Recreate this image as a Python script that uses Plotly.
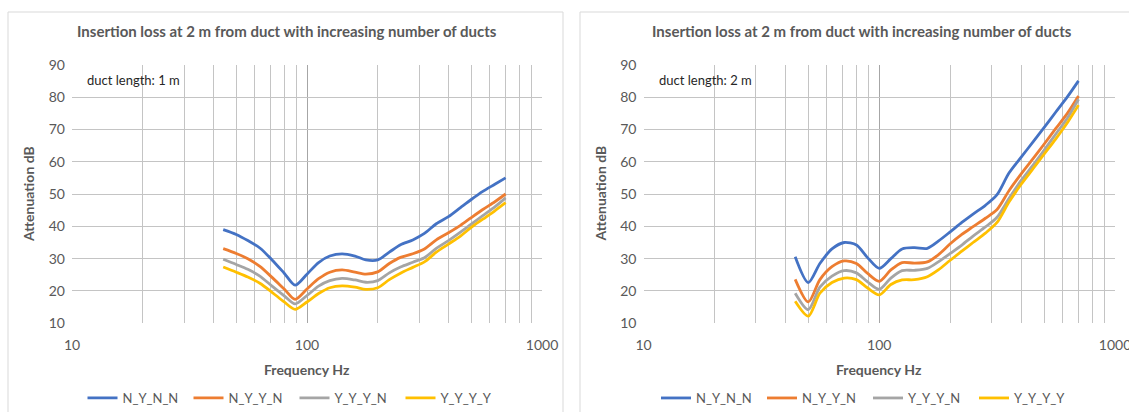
import plotly.graph_objects as go

W, H = 1129, 412

# Frequencies (Hz) shared by both panels
freq = [44, 50, 56, 63, 71, 80, 89, 100, 112, 125, 141, 160, 178, 200,
        224, 250, 282, 316, 355, 400, 450, 500, 560, 630, 700]

series_names = ["N_Y_N_N", "N_Y_Y_N", "Y_Y_Y_N", "Y_Y_Y_Y"]
series_colors = ["#4472C4", "#ED7D31", "#A5A5A5", "#FFC000"]

# Duct length 1 m — attenuation in dB
l1_nynn = [39.0, 37.5, 35.6, 33.3, 29.6, 25.5, 21.8, 25.2, 28.8, 30.8, 31.5, 30.8, 29.6, 29.6,
           32.0, 34.3, 35.8, 37.8, 40.8, 43.0, 45.8, 48.3, 50.8, 53.0, 55.0]
l1_nyyn = [33.1, 31.6, 30.0, 27.6, 24.2, 20.6, 17.4, 20.6, 23.8, 25.8, 26.5, 25.8, 25.2, 25.9,
           28.5, 30.4, 31.5, 33.0, 35.8, 38.0, 40.3, 42.7, 45.2, 47.6, 50.0]
l1_yyyn = [29.8, 28.2, 26.7, 24.6, 21.5, 18.5, 16.0, 18.6, 21.5, 23.2, 23.9, 23.4, 22.7, 23.2,
           25.6, 27.4, 28.9, 30.3, 33.2, 35.6, 38.2, 40.7, 43.3, 46.0, 48.8]
l1_yyyy = [27.4, 25.8, 24.3, 22.4, 19.6, 16.6, 14.3, 16.6, 19.2, 21.0, 21.6, 21.2, 20.5, 21.0,
           23.5, 25.5, 27.3, 29.0, 32.0, 34.5, 37.0, 39.7, 42.2, 44.8, 47.3]

# Duct length 2 m — attenuation in dB
l2_nynn = [30.6, 22.6, 28.5, 33.0, 35.0, 34.2, 30.4, 27.0, 30.0, 33.0, 33.4, 33.2, 35.4, 38.3,
           41.2, 43.8, 46.5, 49.8, 56.5, 61.4, 66.2, 70.5, 75.3, 80.2, 85.0]
l2_nyyn = [23.6, 16.6, 23.5, 27.5, 29.3, 28.5, 25.5, 23.0, 26.5, 28.8, 28.6, 29.0, 31.2, 34.6,
           37.5, 39.9, 42.5, 45.2, 51.0, 56.2, 61.0, 65.4, 70.2, 75.1, 80.3]
l2_yyyn = [19.3, 14.2, 21.2, 24.6, 26.3, 25.6, 22.9, 20.5, 24.0, 26.3, 26.4, 27.0, 29.0, 31.6,
           34.2, 37.0, 39.8, 42.8, 48.6, 54.2, 59.0, 63.5, 68.5, 73.6, 79.3]
l2_yyyy = [16.8, 12.2, 19.3, 22.6, 24.0, 23.5, 21.0, 18.8, 22.0, 23.4, 23.5, 24.4, 26.5, 29.5,
           32.3, 35.0, 37.9, 41.2, 47.5, 53.0, 57.9, 62.3, 67.0, 72.2, 77.5]

panel_series = [[l1_nynn, l1_nyyn, l1_yyyn, l1_yyyy],
                [l2_nynn, l2_nyyn, l2_yyyn, l2_yyyy]]
panel_notes = ["duct length: 1 m", "duct length: 2 m"]
chart_title = "Insertion loss at 2 m from duct with increasing number of ducts"

x_major = [10, 100, 1000]
x_minor = [20, 30, 40, 50, 60, 70, 80, 90, 200, 300, 400, 500, 600, 700, 800, 900]
y_ticks = [10, 20, 30, 40, 50, 60, 70, 80, 90]

FONT = "Lato, 'Open Sans', sans-serif"
TXT = "#595959"


def px(x):
    return x / W


def py(y):
    return 1 - y / H


# Pixel geometry of each panel: plot left/right, chart-area box, centre of title, legend start
panels = [
    dict(pl=72, pr=542, box=(8, 563), centre=287, leg=82.5),
    dict(pl=643.5, pr=1115, box=(580, 1135), centre=862, leg=656),
]
plot_top, plot_bot = 64.7, 323.3

fig = go.Figure()
shapes, annotations = [], []
legend_layouts = {}

legend_common = dict(orientation="h", yanchor="middle", xanchor="left",
                     font=dict(family=FONT, size=13, color=TXT),
                     entrywidth=61, entrywidthmode="pixels",
                     bgcolor="rgba(0,0,0,0)", itemclick=False, itemdoubleclick=False)

for i, p in enumerate(panels):
    xa = "x" if i == 0 else "x2"
    ya = "y" if i == 0 else "y2"
    leg = "legend" if i == 0 else "legend2"
    for name, color, vals in zip(series_names, series_colors, panel_series[i]):
        fig.add_trace(go.Scatter(
            x=freq, y=vals, name=name, mode="lines",
            line=dict(color=color, width=2.8, shape="spline", smoothing=0.8),
            xaxis=xa, yaxis=ya, legend=leg,
        ))

    axis_common = dict(showline=False, zeroline=False, ticks="",
                       tickfont=dict(family=FONT, size=14, color=TXT))
    fig.update_layout({
        ("xaxis" if i == 0 else "xaxis2"): dict(
            type="log", range=[0.99999, 3.00001], domain=[px(p["pl"]), px(p["pr"])],
            anchor=ya, tickvals=x_major, ticktext=[str(v) for v in x_major],
            showgrid=True, gridcolor="#a6a6a6", gridwidth=1.3, ticklabelstandoff=12,
            ticklabeloverflow="allow",
            minor=dict(tickvals=x_minor, showgrid=True, gridcolor="#c4c4c4",
                       gridwidth=1, ticks=""),
            automargin=False, **axis_common),
        ("yaxis" if i == 0 else "yaxis2"): dict(
            range=[10, 90], domain=[py(plot_bot), py(plot_top)], anchor=xa,
            tickvals=y_ticks, showgrid=True, gridcolor="#c4c4c4", gridwidth=1,
            ticklabelstandoff=6, automargin=False, **axis_common),
    })
    legend_layouts[leg] = dict(x=px(p["leg"]), y=py(398), **legend_common)

    # chart-area frame
    bx0, bx1 = p["box"]
    shapes.append(dict(type="rect", xref="paper", yref="paper",
                       x0=px(bx0), x1=px(bx1), y0=py(418), y1=py(12),
                       line=dict(color="#d9d9d9", width=1), fillcolor="rgba(0,0,0,0)",
                       layer="below"))
    # text box holding the duct length note
    shapes.append(dict(type="rect", xref="paper", yref="paper",
                       x0=px(p["pl"] + 1), x1=px(p["pl"] + 134), y0=py(95.5), y1=py(66),
                       line=dict(width=0), fillcolor="white", layer="between"))
    annotations.append(dict(text=panel_notes[i], xref="paper", yref="paper",
                            x=px(p["pl"] + 13), y=py(80), xanchor="left", yanchor="middle",
                            showarrow=False, font=dict(family=FONT, size=13, color="#262626")))
    annotations.append(dict(text="<b>" + chart_title + "</b>", xref="paper", yref="paper",
                            x=px(p["centre"]), y=py(31), xanchor="center", yanchor="middle",
                            showarrow=False, font=dict(family=FONT, size=15, color=TXT)))
    annotations.append(dict(text="<b>Frequency Hz</b>", xref="paper", yref="paper",
                            x=px((p["pl"] + p["pr"]) / 2), y=py(369), xanchor="center",
                            yanchor="middle", showarrow=False,
                            font=dict(family=FONT, size=14, color=TXT)))
    annotations.append(dict(text="<b>Attenuation dB</b>", xref="paper", yref="paper",
                            x=px(p["pl"] - 44), y=py(194), xanchor="center",
                            yanchor="middle", textangle=-90, showarrow=False,
                            font=dict(family=FONT, size=14, color=TXT)))

fig.update_layout(
    width=W, height=H,
    margin=dict(l=0, r=0, t=0, b=0, autoexpand=False),
    paper_bgcolor="white", plot_bgcolor="white",
    showlegend=True,
    shapes=shapes,
    annotations=annotations,
    **legend_layouts,
)

fig.write_html("out.html")
